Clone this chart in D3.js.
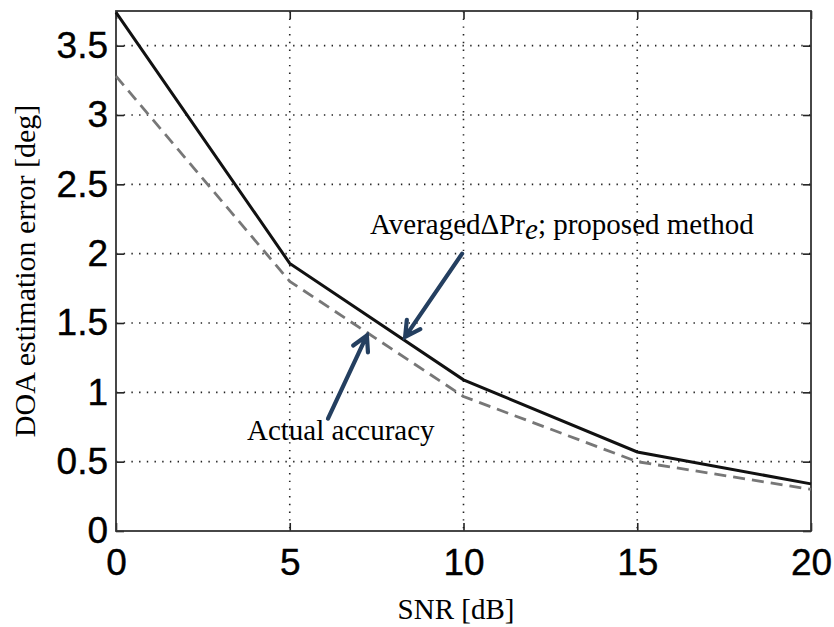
<!DOCTYPE html>
<html>
<head>
<meta charset="utf-8">
<script src="https://cdn.jsdelivr.net/npm/d3@7"></script>
<style>
  html, body { margin: 0; padding: 0; background: #fff; }
  svg { display: block; }
</style>
</head>
<body>
<div id="chart"></div>
<script>
// data
var snr = [0, 5, 10, 15, 20];
var proposed = [3.74, 1.93, 1.09, 0.57, 0.34];
var actual = [3.28, 1.80, 0.97, 0.50, 0.30];
var xTicks = [0, 5, 10, 15, 20];
var yTicks = [0, 0.5, 1, 1.5, 2, 2.5, 3, 3.5];
var yTickLabels = ['0', '0.5', '1', '1.5', '2', '2.5', '3', '3.5'];

// annotations, in data units: [tailX, tailY, tipX, tipY]
var arrowProposed = [9.96, 2.00, 8.32, 1.40];
var arrowActual = [6.10, 0.81, 7.22, 1.41];
var labelProposed = {x: 7.31, y: 2.14};
var labelActual = {x: 3.77, y: 0.655};

var W = 834, H = 627;
var margin = {top: 11, right: 23, bottom: 96, left: 116};
var chart_dx = W - margin.left - margin.right;
var chart_dy = H - margin.top - margin.bottom;

var svg = d3.select('#chart').append('svg')
    .attr('width', W)
    .attr('height', H);

var g = svg.append('g')
    .attr('transform', 'translate(' + margin.left + ',' + margin.top + ')');

var xScale = d3.scaleLinear().domain([0, 20]).range([0, chart_dx]);
var yScale = d3.scaleLinear().domain([0, 3.75]).range([chart_dy, 0]);

// dotted grid
g.append('g').selectAll('line.gx')
    .data(xTicks.slice(1, -1))
    .enter().append('line')
    .attr('x1', function (d) { return xScale(d); })
    .attr('x2', function (d) { return xScale(d); })
    .attr('y1', 0).attr('y2', chart_dy)
    .attr('stroke', '#222').attr('stroke-width', 1.6)
    .attr('stroke-dasharray', '1.4,6.3');

g.append('g').selectAll('line.gy')
    .data(yTicks.slice(1))
    .enter().append('line')
    .attr('y1', function (d) { return yScale(d); })
    .attr('y2', function (d) { return yScale(d); })
    .attr('x1', 0).attr('x2', chart_dx)
    .attr('stroke', '#222').attr('stroke-width', 1.6)
    .attr('stroke-dasharray', '1.4,6.3');

// axes with inward ticks (matlab box style)
var axisStyle = function (sel) {
    sel.select('.domain').remove();
    sel.selectAll('.tick line').attr('stroke', '#222').attr('stroke-width', 1.6);
    sel.selectAll('.tick text')
        .attr('font-family', '"Liberation Sans", Arial, sans-serif')
        .attr('font-size', 37)
        .attr('fill', '#000')
        .attr('stroke', '#000')
        .attr('stroke-width', 0.4);
};

var xAxis = d3.axisBottom(xScale).tickValues(xTicks).tickSize(-8).tickPadding(18)
    .tickFormat(d3.format('d'));
g.append('g')
    .attr('transform', 'translate(0,' + chart_dy + ')')
    .call(xAxis)
    .call(axisStyle);

g.append('g')
    .call(d3.axisTop(xScale).tickValues(xTicks).tickSize(-8).tickFormat(''))
    .call(axisStyle);

var yAxis = d3.axisLeft(yScale).tickValues(yTicks).tickSize(-8).tickPadding(8)
    .tickFormat(function (d, i) { return yTickLabels[i]; });
g.append('g')
    .call(yAxis)
    .call(axisStyle);

g.append('g')
    .attr('transform', 'translate(' + chart_dx + ',0)')
    .call(d3.axisRight(yScale).tickValues(yTicks).tickSize(-8).tickFormat(''))
    .call(axisStyle);

// box
g.append('rect')
    .attr('x', 0).attr('y', 0)
    .attr('width', chart_dx).attr('height', chart_dy)
    .attr('fill', 'none')
    .attr('stroke', '#333').attr('stroke-width', 1.8);

// lines
var line = function (vals) {
    return d3.line()
        .x(function (d, i) { return xScale(snr[i]); })
        .y(function (d) { return yScale(d); })(vals);
};

g.append('path')
    .attr('d', line(actual))
    .attr('fill', 'none')
    .attr('stroke', '#777')
    .attr('stroke-width', 2.8)
    .attr('stroke-dasharray', '12,7');

g.append('path')
    .attr('d', line(proposed))
    .attr('fill', 'none')
    .attr('stroke', '#111')
    .attr('stroke-width', 3);

// arrows
var arrowColor = '#243f60';
var drawArrow = function (a) {
    var x0 = xScale(a[0]), y0 = yScale(a[1]), x1 = xScale(a[2]), y1 = yScale(a[3]);
    var ang = Math.atan2(y1 - y0, x1 - x0);
    var len = 17, spread = 0.5;
    var lx = x1 - len * Math.cos(ang - spread), ly = y1 - len * Math.sin(ang - spread);
    var rx = x1 - len * Math.cos(ang + spread), ry = y1 - len * Math.sin(ang + spread);
    g.append('path')
        .attr('d', 'M' + x0 + ',' + y0 + 'L' + x1 + ',' + y1 +
            'M' + lx + ',' + ly + 'L' + x1 + ',' + y1 + 'L' + rx + ',' + ry)
        .attr('fill', 'none')
        .attr('stroke', arrowColor)
        .attr('stroke-width', 4.2)
        .attr('stroke-linecap', 'round')
        .attr('stroke-linejoin', 'miter');
};
drawArrow(arrowProposed);
drawArrow(arrowActual);

var serif = '"Liberation Serif", "Times New Roman", serif';

var t1 = g.append('text')
    .attr('x', xScale(labelProposed.x))
    .attr('y', yScale(labelProposed.y))
    .attr('font-family', serif)
    .attr('font-size', 29)
    .attr('fill', '#000');
t1.append('tspan').text('Averaged\u0394Pr');
t1.append('tspan').attr('font-style', 'italic').attr('dy', 5).text('e');
t1.append('tspan').attr('dy', -5).text('; proposed method');

g.append('text')
    .attr('x', xScale(labelActual.x))
    .attr('y', yScale(labelActual.y))
    .attr('font-family', serif)
    .attr('font-size', 29)
    .attr('fill', '#000')
    .text('Actual accuracy');

// axis titles
svg.append('text')
    .attr('x', 456)
    .attr('y', 619)
    .attr('text-anchor', 'middle')
    .attr('font-family', serif)
    .attr('font-size', 29)
    .text('SNR [dB]');

svg.append('text')
    .attr('transform', 'translate(35,' + (margin.top + chart_dy / 2) + ') rotate(-90)')
    .attr('text-anchor', 'middle')
    .attr('font-family', serif)
    .attr('font-size', 30)
    .text('DOA estimation error [deg]');
</script>
</body>
</html>
